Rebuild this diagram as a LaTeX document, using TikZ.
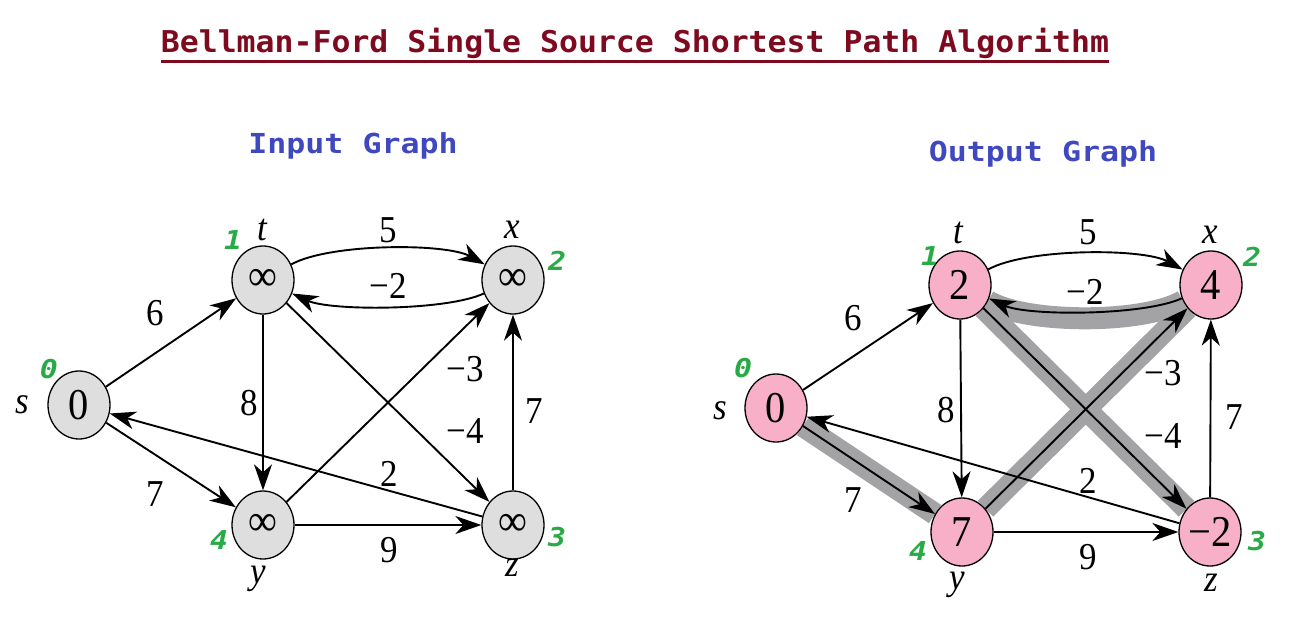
\documentclass[tikz,border=0pt]{standalone}
\usepackage{fontspec}
\usetikzlibrary{arrows.meta,shapes.geometric}
\newfontfamily\serf{Liberation Serif}[FakeStretch=0.92]
\newfontfamily\monob{DejaVu Sans Mono}[FakeStretch=1.15]
\newfontfamily\monot{DejaVu Sans Mono}[FakeStretch=1.05]
\definecolor{titlered}{RGB}{125,10,30}
\definecolor{blu}{RGB}{64,72,192}
\definecolor{grn}{RGB}{40,170,70}
\definecolor{ngray}{RGB}{222,222,222}
\definecolor{npink}{RGB}{248,176,200}
\definecolor{hlgray}{RGB}{163,163,166}
\pgfdeclarelayer{bg}
\pgfsetlayers{bg,main}
\tikzset{
  vtx/.style={ellipse, draw=black, line width=1.3pt, minimum width=62pt, minimum height=68pt, inner sep=0pt, font=\serf\fontsize{44}{44}\selectfont},
  invtx/.style={vtx, fill=ngray},
  outvtx/.style={vtx, fill=npink},
  edge/.style={line width=1.9pt, -{Stealth[length=26pt,width=18pt,inset=8pt]}},
  hl/.style={draw=hlgray, line width=22pt},
  elab/.style={font=\serf\fontsize{38}{38}\selectfont, inner sep=0pt},
  vlab/.style={font=\serf\itshape\fontsize{38}{38}\selectfont, inner sep=0pt},
  ordlab/.style={text=grn, font=\monob\bfseries\itshape\fontsize{26}{26}\selectfont, inner sep=0pt},
  headlab/.style={text=blu, font=\monob\bfseries\fontsize{27.5}{27.5}\selectfont, inner sep=0pt, anchor=base},
}
\begin{document}
\begin{tikzpicture}[x=1pt,y=-1pt]
\useasboundingbox (0,0) rectangle (1301,626);
% title
\node[text=titlered, font=\monot\bfseries\fontsize{30}{30}\selectfont, inner sep=0pt, anchor=base] (title) at (635,53) {Bellman-Ford Single Source Shortest Path Algorithm};
\draw[titlered, line width=2.8pt] ([yshift=-8.5pt]title.base west) -- ([yshift=-8.5pt]title.base east);
\node[headlab] (hin) at (353,153) {Input Graph};
\node[headlab] (hout) at (1043,161) {Output Graph};

% ---------- input graph ----------
\node[invtx] (ls) at (79,405) {0};
\node[invtx] (lt) at (263,280) {∞};
\node[invtx] (lx) at (513,280) {∞};
\node[invtx] (ly) at (263,525) {∞};
\node[invtx] (lz) at (513,525) {∞};

\draw[edge] (ls) -- (lt);
\draw[edge] (ls) -- (ly);
\draw[edge] (lt) .. controls (330,243) and (446,243) .. (lx);
\draw[edge] (lx) .. controls (446,311) and (330,311) .. (lt);
\draw[edge] (lt) -- (ly);
\draw[edge] (lt) -- (lz);
\draw[edge] (ly) -- (lx);
\draw[edge] (ly) -- (lz);
\draw[edge] (lz) -- (lx);
\draw[edge] (lz) -- (ls);

\node[elab] (le1) at (155,313) {6};
\node[elab] (le2) at (388,230) {5};
\node[elab] (le3) at (388,286) {−2};
\node[elab] (le4) at (249,403) {8};
\node[elab] (le5) at (465,369) {−3};
\node[elab] (le6) at (465,431) {−4};
\node[elab] (le7) at (534,411) {7};
\node[elab] (le8) at (389,474) {2};
\node[elab] (le9) at (155,494) {7};
\node[elab] (le10) at (389,550) {9};

\node[vlab] (lls) at (22,405) {s};
\node[vlab] (llt) at (262,230) {t};
\node[vlab] (llx) at (512,230) {x};
\node[vlab] (lly) at (258,579) {y};
\node[vlab] (llz) at (512,568) {z};

\node[ordlab] (lo0) at (49,369) {0};
\node[ordlab] (lo1) at (233,240) {1};
\node[ordlab] (lo2) at (557,261) {2};
\node[ordlab] (lo4) at (219,540) {4};
\node[ordlab] (lo3) at (557,537) {3};

% ---------- output graph ----------
\node[outvtx] (rs) at (776,408) {0};
\node[outvtx] (rt) at (960,285) {2};
\node[outvtx] (rx) at (1211,285) {4};
\node[outvtx] (ry) at (962,532) {7};
\node[outvtx] (rz) at (1210,532) {−2};

\begin{pgfonlayer}{bg}
\draw[hl] (rs) -- (ry);
\draw[hl] (ry) -- (rx);
\draw[hl] (rt) -- (rz);
\draw[hl] (rx) .. controls (1143,324) and (1027,324) .. (rt);
\end{pgfonlayer}

\draw[edge] (rs) -- (rt);
\draw[edge] (rs) -- (ry);
\draw[edge] (rt) .. controls (1027,248) and (1143,248) .. (rx);
\draw[edge] (rx) .. controls (1143,316) and (1027,316) .. (rt);
\draw[edge] (rt) -- (ry);
\draw[edge] (rt) -- (rz);
\draw[edge] (ry) -- (rx);
\draw[edge] (ry) -- (rz);
\draw[edge] (rz) -- (rx);
\draw[edge] (rz) -- (rs);

\node[elab] (re1) at (853,318) {6};
\node[elab] (re2) at (1088,232) {5};
\node[elab] (re3) at (1085,292) {−2};
\node[elab] (re4) at (946,410) {8};
\node[elab] (re5) at (1163,373) {−3};
\node[elab] (re6) at (1163,436) {−4};
\node[elab] (re7) at (1234,417) {7};
\node[elab] (re8) at (1088,481) {2};
\node[elab] (re9) at (853,500) {7};
\node[elab] (re10) at (1088,557) {9};

\node[vlab] (rls) at (720,411) {s};
\node[vlab] (rlt) at (958,233) {t};
\node[vlab] (rlx) at (1210,235) {x};
\node[vlab] (rly) at (957,585) {y};
\node[vlab] (rlz) at (1211,583) {z};

\node[ordlab] (ro0) at (743,368) {0};
\node[ordlab] (ro1) at (930,256) {1};
\node[ordlab] (ro2) at (1252,257) {2};
\node[ordlab] (ro4) at (918,551) {4};
\node[ordlab] (ro3) at (1257,541) {3};
\end{tikzpicture}
\end{document}
